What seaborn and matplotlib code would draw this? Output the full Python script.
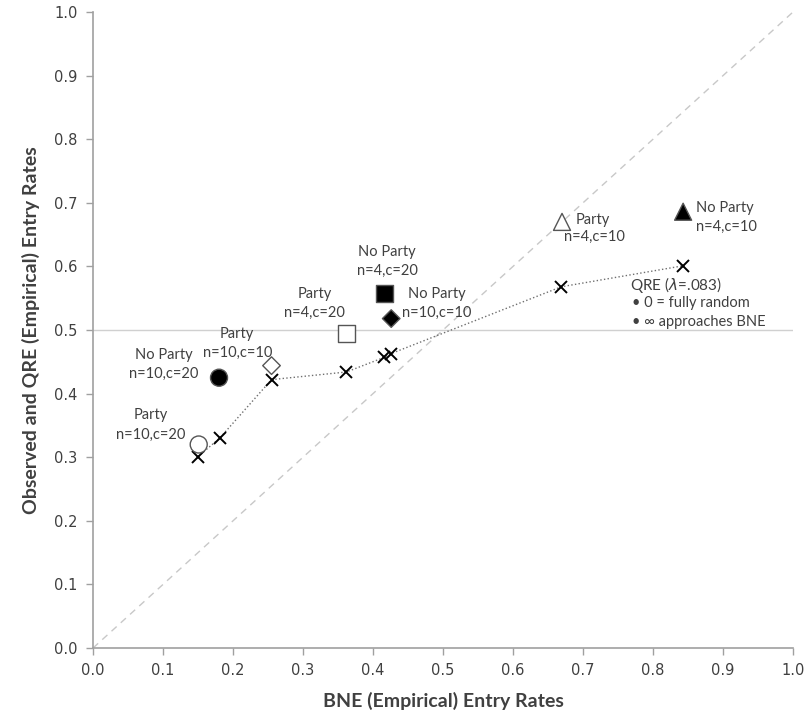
import pandas as pd
import matplotlib.pyplot as plt
import seaborn as sns

# QRE predicted entry rates (lambda = .083)
qre_x = [0.150, 0.181, 0.255, 0.362, 0.416, 0.426, 0.669, 0.843]
qre_y = [0.301, 0.330, 0.422, 0.434, 0.457, 0.463, 0.568, 0.601]

# observed entry rates by treatment
obs_treat = ['Party n=10,c=20', 'No Party n=10,c=20', 'Party n=10,c=10', 'No Party n=10,c=10',
             'Party n=4,c=20', 'No Party n=4,c=20', 'Party n=4,c=10', 'No Party n=4,c=10']
obs_x = [0.151, 0.180, 0.255, 0.426, 0.362, 0.416, 0.670, 0.843]
obs_y = [0.320, 0.425, 0.444, 0.518, 0.495, 0.558, 0.670, 0.686]
obs_party = ['Party', 'No Party', 'Party', 'No Party', 'Party', 'No Party', 'Party', 'No Party']
obs_shape = ['circle', 'circle', 'diamond', 'diamond', 'square', 'square', 'triangle', 'triangle']

ticks = [0.0, 0.1, 0.2, 0.3, 0.4, 0.5, 0.6, 0.7, 0.8, 0.9, 1.0]
tick_labels = [f'{t:.1f}' for t in ticks]

df = pd.DataFrame({'treat': obs_treat, 'bne': obs_x, 'obs': obs_y,
                   'party': obs_party, 'shape': obs_shape})
qre = pd.DataFrame({'bne': qre_x, 'qre': qre_y})

sns.set_theme(style='ticks')
plt.rcParams['font.family'] = ['Lato', 'DejaVu Sans']

fig = plt.figure(figsize=(8.06, 7.23), dpi=100)
ax = fig.add_axes([0.1154, 0.1037, 0.8685, 0.8797])

# reference lines
ax.plot([0, 1], [0, 1], color='#c8c8c8', lw=1, ls=(0, (5, 4)), zorder=1)
ax.axhline(0.5, color='#d0d0d0', lw=1, zorder=1)

sns.lineplot(data=qre, x='bne', y='qre', ax=ax, color='#6f6f6f', lw=1, ls=':',
             marker='x', ms=8, mec='black', mew=1.4, zorder=3)

sns.scatterplot(data=df, x='bne', y='obs', ax=ax, style='shape', hue='party', size='shape',
                markers={'circle': 'o', 'diamond': 'D', 'square': 's', 'triangle': '^'},
                palette={'Party': 'white', 'No Party': 'black'},
                sizes={'circle': 150, 'diamond': 80, 'square': 150, 'triangle': 150},
                edgecolor='#555555', linewidth=1, legend=False, zorder=4)

txt = dict(fontsize=10.5, color='#404040')
ax.text(0.082, 0.351, 'Party\nn=10,c=20', ha='center', va='center', linespacing=1.5, **txt)
ax.text(0.101, 0.446, 'No Party\nn=10,c=20', ha='center', va='center', linespacing=1.5, **txt)
ax.text(0.206, 0.479, 'Party\nn=10,c=10', ha='center', va='center', linespacing=1.5, **txt)
ax.text(0.317, 0.542, 'Party\nn=4,c=20', ha='center', va='center', linespacing=1.5, **txt)
ax.text(0.420, 0.608, 'No Party\nn=4,c=20', ha='center', va='center', linespacing=1.5, **txt)
ax.text(0.491, 0.542, 'No Party\nn=10,c=10', ha='center', va='center', linespacing=1.5, **txt)
ax.text(0.690, 0.673, 'Party', ha='left', va='center', **txt)
ax.text(0.673, 0.646, 'n=4,c=10', ha='left', va='center', **txt)
ax.text(0.861, 0.677, 'No Party\nn=4,c=10', ha='left', va='center', linespacing=1.5, **txt)
ax.text(0.767, 0.571, 'QRE ($\\lambda$=.083)', ha='left', va='center', fontsize=11, color='#404040')
ax.text(0.770, 0.543, '• 0 = fully random', ha='left', va='center', fontsize=10.5, color='#404040')
ax.text(0.770, 0.513, '• ∞ approaches BNE', ha='left', va='center', fontsize=10.5, color='#404040')

ax.set_xlim(0, 1)
ax.set_ylim(0, 1)
ax.set_xticks(ticks)
ax.set_yticks(ticks)
ax.set_xticklabels(tick_labels, family='DejaVu Sans', fontsize=10.5, color='#404040')
ax.set_yticklabels(tick_labels, family='DejaVu Sans', fontsize=10.5, color='#404040')
ax.tick_params(direction='out', length=5, width=1, color='#a0a0a0', pad=6)
for side in ['left', 'bottom']:
    ax.spines[side].set_color('#a0a0a0')
    ax.spines[side].set_linewidth(1.2)
sns.despine(ax=ax)

ax.set_xlabel('BNE (Empirical) Entry Rates', fontsize=14, fontweight='bold', color='#404040', labelpad=10)
ax.set_ylabel('Observed and QRE (Empirical) Entry Rates', fontsize=14, fontweight='bold', color='#404040', labelpad=10)

fig.savefig('out.png', dpi=100)
